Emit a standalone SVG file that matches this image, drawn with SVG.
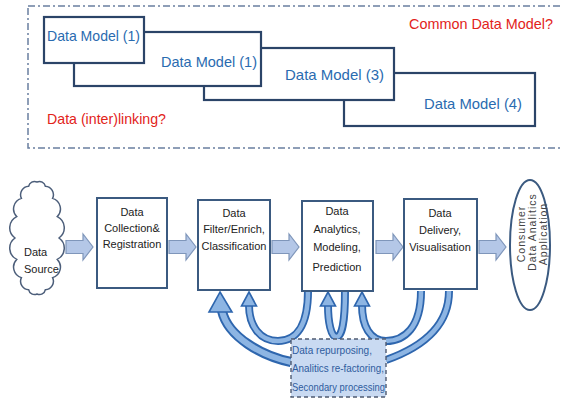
<svg xmlns="http://www.w3.org/2000/svg" width="563" height="400" viewBox="0 0 563 400">
<style>
.frame{fill:none;stroke:#6A7FA0;stroke-width:1.5;stroke-dasharray:7 3 2 3}
.dm{fill:#fff;stroke:#2B4468;stroke-width:2.2}
.dmt{font-family:"Liberation Sans",Arial,sans-serif;font-size:15px;fill:#2A6BB0}
.red{font-family:"Liberation Sans",Arial,sans-serif;font-size:15px;fill:#E2231A}
.box{fill:#fff;stroke:#3B5A80;stroke-width:2}
.bt{font-family:"Liberation Sans",Arial,sans-serif;font-size:11px;fill:#222;text-anchor:middle}
.harrow{fill:#B4C7E7;stroke:#7F96BA;stroke-width:1.2}
.bandO{fill:none;stroke:#2E66AE;stroke-width:8;stroke-linecap:butt}
.bandI{fill:none;stroke:#8DB5E3;stroke-width:4.5;stroke-linecap:butt}
.head{fill:#8DB5E3;stroke:#2E66AE;stroke-width:1.6;stroke-linejoin:miter}
.lbl{fill:#C9DAF2;stroke:#4F5B72;stroke-width:1.4;stroke-dasharray:4 3}
.lt{font-family:"Liberation Sans",Arial,sans-serif;font-size:11px;fill:#2F5C9E}
.ct{font-family:"Liberation Sans",Arial,sans-serif;font-size:10.5px;fill:#444;text-anchor:middle;letter-spacing:1px}
</style>
<defs>
<path id="hd" d="M0,0 L7.5,14 L-7.5,14 Z"/>
<path id="ha" d="M0,-6.5 H17 V-13 L27,0 L17,13 V6.5 H0 Z"/>
</defs>

<g id="common-frame">
<rect class="frame" x="28" y="6" width="560" height="142"/>
<text class="red" x="409" y="29" textLength="144" lengthAdjust="spacingAndGlyphs">Common Data Model?</text>
<text class="red" x="47" y="124" textLength="119" lengthAdjust="spacingAndGlyphs">Data (inter)linking?</text>
</g>

<g id="dm4"><rect class="dm" x="344" y="73" width="191" height="53"/><text class="dmt" x="424" y="109" textLength="98" lengthAdjust="spacingAndGlyphs">Data Model (4)</text></g>
<g id="dm3"><rect class="dm" x="204" y="48" width="190" height="52"/><text class="dmt" x="285" y="80" textLength="99" lengthAdjust="spacingAndGlyphs">Data Model (3)</text></g>
<g id="dm2"><rect class="dm" x="74" y="32" width="187" height="54"/><text class="dmt" x="161" y="67" textLength="96" lengthAdjust="spacingAndGlyphs">Data Model (1)</text></g>
<g id="dm1"><rect class="dm" x="44" y="17" width="100" height="46"/><text class="dmt" x="47" y="41" textLength="93" lengthAdjust="spacingAndGlyphs">Data Model (1)</text></g>

<g id="connectors">
<use href="#ha" class="harrow" x="66" y="247"/>
<use href="#ha" class="harrow" x="169" y="247"/>
<use href="#ha" class="harrow" x="272" y="247"/>
<use href="#ha" class="harrow" x="376" y="247"/>
<use href="#ha" class="harrow" x="479" y="247"/>

<path class="bandO" d="M386,360 C420,348 449,328 449,291"/>
<path class="bandI" d="M386,360 C420,348 449,328 449,291"/>
<path class="bandO" d="M421,291 C421,328 404,341 386,341 C370,341 362,326 362,305"/>
<path class="bandI" d="M421,291 C421,328 404,341 386,341 C370,341 362,326 362,305"/>
<path class="bandO" d="M345,291 C345,322 342,337 336.5,337 C331,337 328,322 328,305"/>
<path class="bandI" d="M345,291 C345,322 342,337 336.5,337 C331,337 328,322 328,305"/>
<path class="bandO" d="M308,291 C308,326 296,341 278,341 C260,341 249,326 249,305"/>
<path class="bandI" d="M308,291 C308,326 296,341 278,341 C260,341 249,326 249,305"/>
<path class="bandO" d="M291,362 C262,356 228,337 222,311" style="stroke-width:10"/>
<path class="bandI" d="M291,362 C262,356 228,337 222,311" style="stroke-width:6"/>
<use href="#hd" class="head" x="249" y="292"/>
<use href="#hd" class="head" x="328" y="292"/>
<use href="#hd" class="head" x="362" y="292"/>
<path class="head" d="M220,292 L232,312 L209,312 Z"/>
</g>

<g id="data-source">
<path d="M37,182 A6,6 0 0 1 45.4,186.3 A8.5,8.5 0 0 1 52.6,198.4 A11,11 0 0 1 57.3,216.6 A12.5,12.5 0 0 1 59,238 A12.5,12.5 0 0 1 57.3,259.4 A11,11 0 0 1 52.6,277.6 A8.5,8.5 0 0 1 45.4,289.7 A6,6 0 0 1 37,294 A6,6 0 0 1 28.6,289.7 A8.5,8.5 0 0 1 21.4,277.6 A11,11 0 0 1 16.7,259.4 A12.5,12.5 0 0 1 15,238 A12.5,12.5 0 0 1 16.7,216.6 A11,11 0 0 1 21.4,198.4 A8.5,8.5 0 0 1 28.6,186.3 A6,6 0 0 1 37,182 Z" fill="#fff" stroke="#4C5E7A" stroke-width="1.5"/>
<text class="bt" style="text-anchor:start" x="24" y="256">Data</text>
<text class="bt" style="text-anchor:start" x="24" y="273">Source</text>
</g>

<g id="collection">
<rect class="box" x="97" y="198" width="70" height="90"/>
<text class="bt" x="132" y="216">Data</text>
<text class="bt" x="132" y="232">Collection&amp;</text>
<text class="bt" x="132" y="248">Registration</text>
</g>

<g id="filter">
<rect class="box" x="198" y="200" width="72" height="90"/>
<text class="bt" x="234" y="217">Data</text>
<text class="bt" x="234" y="233">Filter/Enrich,</text>
<text class="bt" x="234" y="250">Classification</text>
</g>

<g id="analytics">
<rect class="box" x="302" y="201" width="71" height="90"/>
<text class="bt" x="337" y="215">Data</text>
<text class="bt" x="337" y="233">Analytics,</text>
<text class="bt" x="337" y="251">Modeling,</text>
<text class="bt" x="337" y="271">Prediction</text>
</g>

<g id="delivery">
<rect class="box" x="404" y="199" width="73" height="90"/>
<text class="bt" x="440" y="217">Data</text>
<text class="bt" x="440" y="234">Delivery,</text>
<text class="bt" x="440" y="251">Visualisation</text>
</g>

<g id="consumer">
<ellipse cx="530" cy="245" rx="20" ry="65" fill="#fff" stroke="#3B5A80" stroke-width="2"/>
<text class="ct" transform="translate(525,234) rotate(-90)">Consumer</text>
<text class="ct" transform="translate(536,232) rotate(-90)">Data Analitics</text>
<text class="ct" transform="translate(547,234) rotate(-90)">Application</text>
</g>

<g id="repurposing">
<rect class="lbl" x="291" y="339" width="95" height="58"/>
<text class="lt" x="292" y="354" textLength="80" lengthAdjust="spacingAndGlyphs">Data repurposing,</text>
<text class="lt" x="292" y="372" textLength="92" lengthAdjust="spacingAndGlyphs">Analitics re-factoring,</text>
<text class="lt" x="292" y="391" textLength="93" lengthAdjust="spacingAndGlyphs">Secondary processing</text>
</g>
</svg>
